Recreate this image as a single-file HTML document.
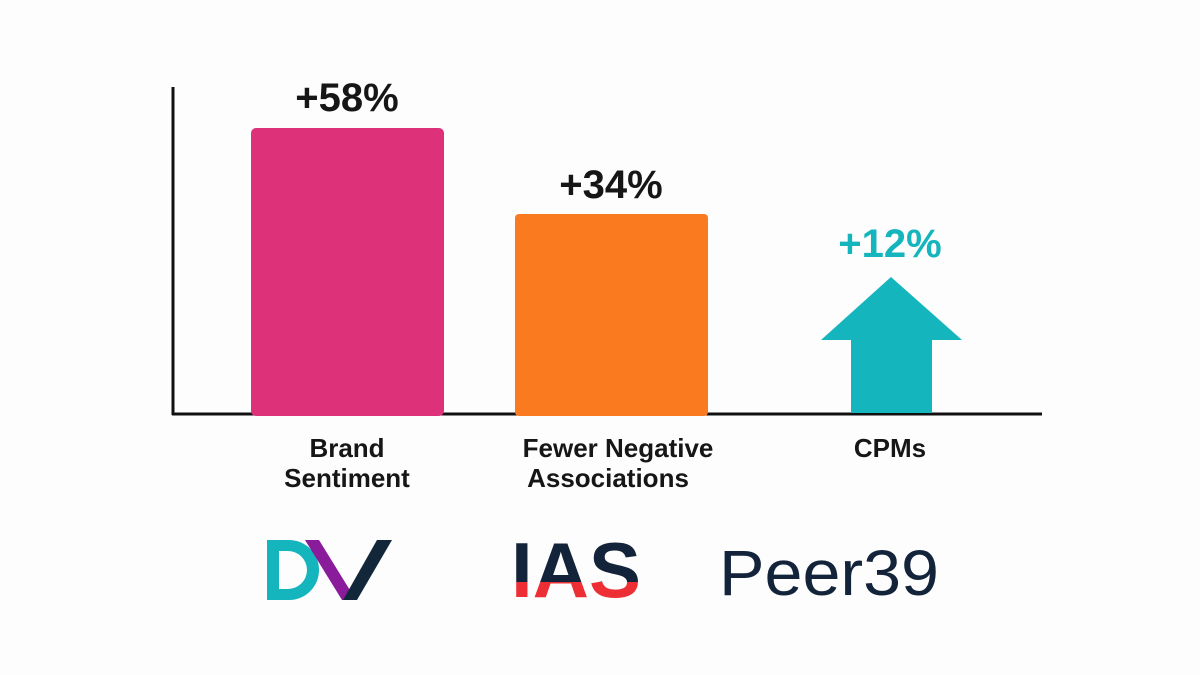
<!DOCTYPE html>
<html><head><style>
body{margin:0;background:#fdfdfd;}
svg{display:block}
text{font-family:"Liberation Sans",sans-serif;}
</style></head><body>
<svg width="1200" height="675" viewBox="0 0 1200 675">
<rect width="1200" height="675" fill="#fdfdfd"/>
<line x1="173" y1="87" x2="173" y2="415" stroke="#111" stroke-width="3"/>
<line x1="172" y1="414" x2="1042" y2="414" stroke="#111" stroke-width="3"/>
<rect x="251" y="128" width="193" height="288" rx="5" fill="#dd3179"/>
<rect x="515" y="214" width="193" height="202" rx="4" fill="#f97a1f"/>
<polygon points="891,277 962,340 932,340 932,413 851,413 851,340 821,340" fill="#14b5bd"/>
<g font-size="40" font-weight="bold" text-anchor="middle">
<text x="347" y="111" fill="#161616">+58%</text>
<text x="611" y="198" fill="#161616">+34%</text>
<text x="890" y="257" fill="#14b5bd">+12%</text>
</g>
<g font-size="26" font-weight="bold" fill="#161616" text-anchor="middle">
<text x="347" y="457">Brand</text>
<text x="347" y="487">Sentiment</text>
<text x="618" y="457">Fewer Negative</text>
<text x="608" y="487">Associations</text>
<text x="890" y="457">CPMs</text>
</g>
<!-- DV -->
<path d="M267,540 h22 a30,30 0 0 1 0,60 h-22 z M279,551 v38 h9 a19,19 0 0 0 0,-38 z" fill="#14b5bd" fill-rule="evenodd"/>
<polygon points="305,540 319,540 356,600 342,600" fill="#8a1c9c"/>
<polygon points="377,540 392,540 357,600 343,600" fill="#12283a"/>
<!-- IAS -->
<defs><clipPath id="top"><rect x="440" y="520" width="220" height="62"/></clipPath><clipPath id="bot"><rect x="440" y="582" width="220" height="30"/></clipPath></defs>
<g font-size="78" font-weight="bold">
<text x="511" y="597" fill="#12233a" clip-path="url(#top)" textLength="130" lengthAdjust="spacingAndGlyphs">IAS</text>
<text x="511" y="597" fill="#ee2e35" clip-path="url(#bot)" textLength="130" lengthAdjust="spacingAndGlyphs">IAS</text>
</g>
<text x="719" y="595" font-size="64" fill="#12233a" textLength="220" lengthAdjust="spacingAndGlyphs">Peer39</text>
</svg>
</body></html>
